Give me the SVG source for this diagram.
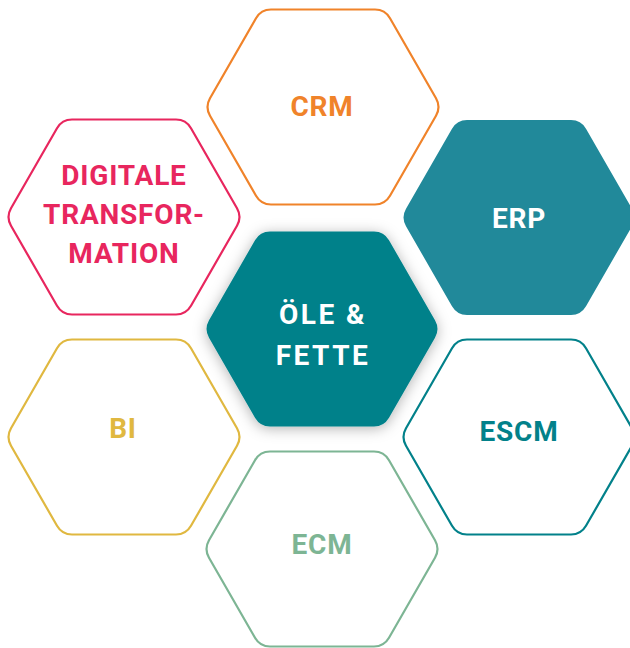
<svg xmlns="http://www.w3.org/2000/svg" xmlns:xlink="http://www.w3.org/1999/xlink" width="630" height="648" viewBox="0 0 630 648">
<style>
.lbl{font-family:Roboto,"Liberation Sans",sans-serif;font-weight:700;font-size:28px;text-anchor:middle;letter-spacing:0.8px}
.out{fill:#fff;stroke-width:2.2}
</style>
<defs>
<path id="hex" d="M-52,-97.5 L52,-97.5 Q62,-97.5 67,-88.8 L113,-8.7 Q118,0 113,8.7 L67,88.8 Q62,97.5 52,97.5 L-52,97.5 Q-62,97.5 -67,88.8 L-113,8.7 Q-118,0 -113,-8.7 L-67,-88.8 Q-62,-97.5 -52,-97.5 Z"/>
<filter id="sh" x="-30%" y="-30%" width="160%" height="160%">
<feDropShadow dx="0" dy="2" stdDeviation="7" flood-color="#000" flood-opacity="0.3"/>
</filter>
</defs>
<g id="connectors"/>
<g id="crm">
<use href="#hex" xlink:href="#hex" x="323" y="107" class="out" stroke="#F0832A"/>
<text class="lbl" x="322" y="116" fill="#F0832A">CRM</text>
</g>
<g id="digitale">
<use href="#hex" xlink:href="#hex" x="124" y="217" class="out" stroke="#E8265E"/>
<text class="lbl" fill="#E8265E"><tspan x="124" y="185">DIGITALE</tspan><tspan x="124" y="224">TRANSFOR-</tspan><tspan x="124" y="263">MATION</tspan></text>
</g>
<g id="erp">
<use href="#hex" xlink:href="#hex" x="519" y="217.5" fill="#21899A"/>
<text class="lbl" x="519" y="228" fill="#fff">ERP</text>
</g>
<g id="oele">
<use href="#hex" xlink:href="#hex" x="322" y="329" fill="#02818A" filter="url(#sh)"/>
<text class="lbl" fill="#fff" style="letter-spacing:2.5px"><tspan x="323" y="324">ÖLE &amp;</tspan><tspan x="323" y="365">FETTE</tspan></text>
</g>
<g id="bi">
<use href="#hex" xlink:href="#hex" x="124" y="437" class="out" stroke="#E0B840"/>
<text class="lbl" x="123" y="438" fill="#E0B840">BI</text>
</g>
<g id="escm">
<use href="#hex" xlink:href="#hex" x="519" y="437" class="out" stroke="#02818A"/>
<text class="lbl" x="519" y="441" fill="#02818A">ESCM</text>
</g>
<g id="ecm">
<use href="#hex" xlink:href="#hex" x="322" y="549" class="out" stroke="#7DB594"/>
<text class="lbl" x="322" y="554" fill="#7DB594">ECM</text>
</g>
</svg>
